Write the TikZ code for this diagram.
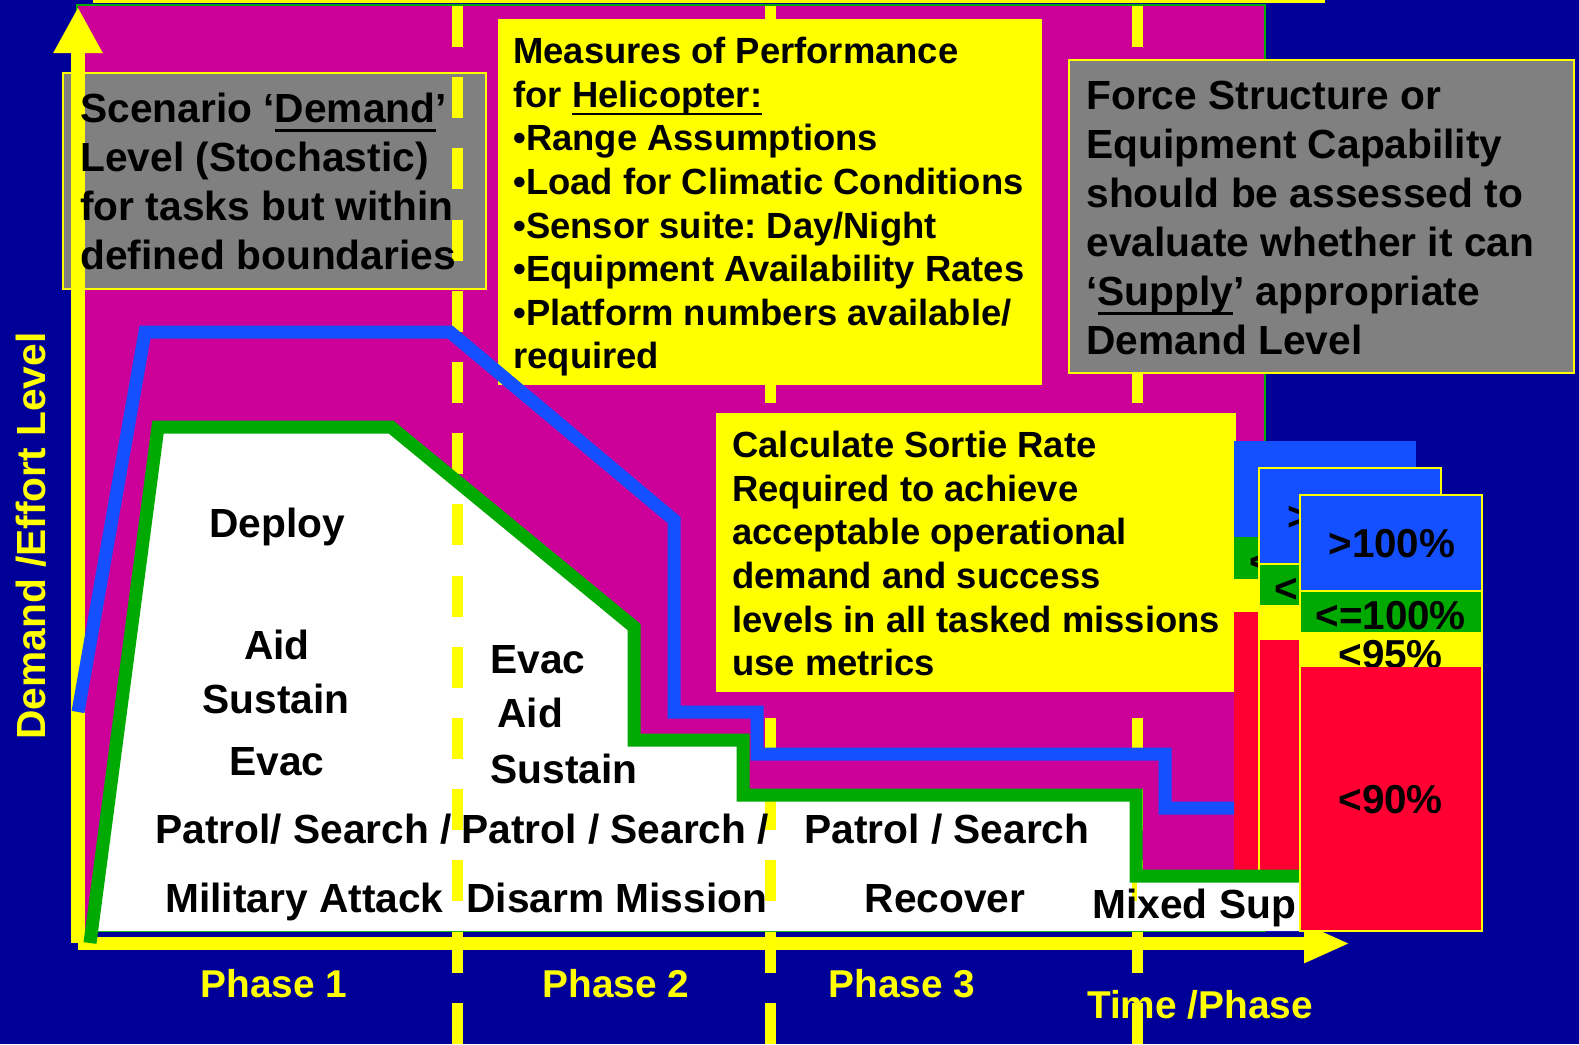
\documentclass[tikz,border=0pt]{standalone}
\usepackage{fontspec}
\setmainfont{Liberation Sans}
\usetikzlibrary{arrows.meta}
\frenchspacing

\definecolor{navybg}{HTML}{000099}
\definecolor{magentabg}{HTML}{CC0099}
\definecolor{slideyellow}{RGB}{255,255,0}
\definecolor{demandgreen}{HTML}{00AA00}
\definecolor{supplyblue}{HTML}{1450FF}
\definecolor{ratered}{HTML}{FF0033}
\definecolor{boxgray}{HTML}{808080}

% underline at a fixed depth below the baseline
\newcommand{\undl}[1]{\sbox0{#1}\rlap{\rule[-0.225em]{\wd0}{0.075em}}\usebox0}
% fixes the top of the first line of a text block
\newcommand{\firstln}{\rule{0pt}{0.75em}}

% bands of one success-rate card: x, y, border colour
\newcommand{\ratecard}[3]{%
  \begin{scope}[shift={(#1,#2)}]
    \draw[band, fill=supplyblue, draw=#3] (0,0) rectangle (182,96);
    \draw[band, fill=demandgreen, draw=#3] (0,96) rectangle (182,138);
    \draw[band, fill=slideyellow, draw=#3] (0,138) rectangle (182,171);
    \draw[band, fill=ratered, draw=#3] (0,171) rectangle (182,436);
  \end{scope}}

\begin{document}
\begin{tikzpicture}[x=0.5pt, y=-0.5pt,
  txt/.style={font=\fontsize{20.35}{24.5}\selectfont\bfseries, inner sep=0pt},
  smalltxt/.style={font=\fontsize{18.2}{21.8}\selectfont\bfseries, inner sep=0pt},
  phase/.style={font=\fontsize{19.4}{23}\selectfont\bfseries, text=slideyellow, inner sep=0pt, anchor=base},
  pct/.style={font=\fontsize{20.2}{24}\selectfont\bfseries, inner sep=0pt, anchor=base west},
  note/.style={fill=boxgray, draw=slideyellow, line width=1pt},
  band/.style={line width=0.75pt},
  divider/.style={slideyellow, line width=5.5pt, dash pattern=on 20.5pt off 15.1pt},
  axisline/.style={slideyellow, line width=6.75pt},
  level/.style={line width=6.5pt, miter limit=20}]

  \useasboundingbox (0,0) rectangle (1579,1044);

  % Draw background and plot area
  \fill[navybg] (0,0) rectangle (1579,1044);
  \fill[slideyellow] (93,0) rectangle (1325,3);
  \draw[fill=magentabg, draw=demandgreen, line width=0.75pt] (77,5) rectangle (1265,931);

  % Area under the demand level
  \fill[white] (90,931) -- (158,427) -- (391,427) -- (634,627) -- (634,740)
    -- (743,740) -- (743,795) -- (1136,795) -- (1136,876) -- (1300,876)
    -- (1300,931) -- cycle;

  % Scenario box
  \draw[note] (63,73) rectangle (486,289);

  % Axes
  \draw[axisline, -{Triangle[length=23pt,width=23pt]}] (78,943) -- (78,7);
  \draw[axisline, -{Triangle[length=23pt,width=18pt]}] (78,943.5) -- (1350,943.5);

  % Phase dividers
  \foreach \px in {457,770,1137}
    \draw[divider] (\px,6) -- (\px,1044);

  % Boxes over the dividers
  \fill[slideyellow] (498,19) rectangle (1042,385);
  \draw[note] (1068.5,60) rectangle (1573.5,373);
  \fill[slideyellow] (716,413) rectangle (1236,692);

  % Rate cards behind
  \ratecard{1234}{441}{none}
  \node[pct] (backlow) at (1249,575) {<};
  \ratecard{1259}{468}{slideyellow}
  \node[pct] (midhigh) at (1287,530) {>};
  \node[pct] (midlow) at (1274,602) {<};
  \fill[white] (1137,876) rectangle (1300,931);
  \node[txt, anchor=base west] (mixed) at (1092,918) {Mixed Sup};

  % Supply and demand levels
  \draw[level, supplyblue] (78,712) -- (145,332) -- (450,332) -- (674,520)
    -- (674,712) -- (757,712) -- (757,754) -- (1165,754) -- (1165,808) -- (1234,808);
  \draw[level, demandgreen] (90,943) -- (158,427) -- (391,427) -- (634,627)
    -- (634,740) -- (743,740) -- (743,795) -- (1136,795) -- (1136,876) -- (1300,876);

  % Front rate card
  \ratecard{1300}{495}{slideyellow}
  \node[pct] (over) at (1328,557) {>100\%};
  \node[pct] (met) at (1315,629) {<=100\%};
  \begin{scope}
    \clip (1300,633) rectangle (1482,666);
    \node[pct] (near) at (1338,668) {<95\%};
  \end{scope}
  \node[pct] (under) at (1338,813) {<90\%};

  % Box texts
  \node[txt, anchor=north west, align=left] (scenario) at (80,92)
    {\firstln Scenario ‘\undl{Demand}’\\Level (Stochastic)\\for tasks but within\\defined boundaries};
  \node[smalltxt, anchor=north west, align=left] (measures) at (513,36)
    {\firstln Measures of Performance\\for \undl{Helicopter:}\\•Range Assumptions\\•Load for Climatic Conditions\\•Sensor suite: Day/Night\\•Equipment Availability Rates\\•Platform numbers available/\\required};
  \node[txt, anchor=north west, align=left] (force) at (1086,79)
    {\firstln Force Structure or\\Equipment Capability\\should be assessed to\\evaluate whether it can\\‘\undl{Supply}’ appropriate\\Demand Level};
  \node[smalltxt, anchor=north west, align=left] (sortie) at (732,430)
    {\firstln Calculate Sortie Rate\\Required to achieve\\acceptable operational\\demand and success\\levels in all tasked missions\\use metrics};

  % Tasks in each phase
  \node[txt, anchor=base] (deploy) at (277,537) {Deploy};
  \node[txt, anchor=base] (aid1) at (277,659) {Aid};
  \node[txt, anchor=base] (sustain1) at (276,713) {Sustain};
  \node[txt, anchor=base] (evac1) at (277,775) {Evac};
  \node[txt, anchor=base west] (evac2) at (490,673) {Evac};
  \node[txt, anchor=base west] (aid2) at (497,727) {Aid};
  \node[txt, anchor=base west] (sustain2) at (490,783) {Sustain};
  \node[txt, anchor=base west] (patrol1) at (155,843) {Patrol/ Search /};
  \node[txt, anchor=base west] (patrol2) at (461,843) {Patrol / Search /};
  \node[txt, anchor=base west] (patrol3) at (804,843) {Patrol / Search};
  \node[txt, anchor=base west] (attack) at (165,912) {Military Attack};
  \node[txt, anchor=base west] (disarm) at (466,912) {Disarm Mission};
  \node[txt, anchor=base] (recover) at (945,912) {Recover};

  % Axis labels
  \node[txt, text=slideyellow, rotate=90, anchor=base] (ylabel) at (45,536) {Demand /Effort Level};
  \node[phase] (phase1) at (274,997) {Phase 1};
  \node[phase] (phase2) at (616,997) {Phase 2};
  \node[phase] (phase3) at (902,997) {Phase 3};
  \node[phase] (xlabel) at (1200,1018) {Time /Phase};

\end{tikzpicture}
\end{document}
